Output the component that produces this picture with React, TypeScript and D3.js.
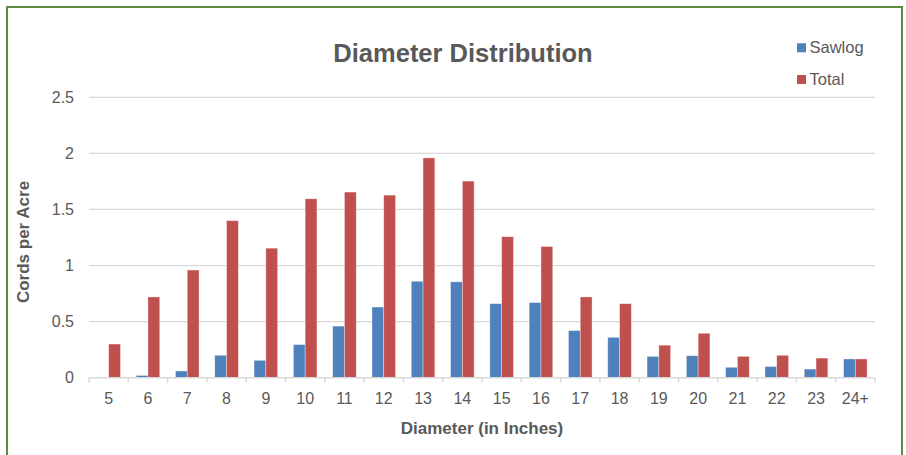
import { useEffect, useRef } from "react";
import * as d3 from "d3";

const categories = ["5", "6", "7", "8", "9", "10", "11", "12", "13", "14", "15", "16", "17", "18", "19", "20", "21", "22", "23", "24+"];
const sawlog = [0, 0.02, 0.06, 0.2, 0.155, 0.295, 0.46, 0.63, 0.86, 0.855, 0.66, 0.67, 0.42, 0.36, 0.19, 0.196, 0.093, 0.1, 0.077, 0.167];
const total = [0.3, 0.72, 0.96, 1.4, 1.155, 1.595, 1.655, 1.628, 1.96, 1.753, 1.257, 1.17, 0.72, 0.66, 0.29, 0.396, 0.19, 0.2, 0.175, 0.167];
const yTicks = [0, 0.5, 1, 1.5, 2, 2.5];

const seriesNames = ["Sawlog", "Total"];
const colors = ["#4f81bd", "#c0504d"];

const W = 906;
const H = 455;

export default function App() {
  const svgRef = useRef<SVGSVGElement | null>(null);

  useEffect(() => {
    const svgElement = svgRef.current;
    if (!svgElement) return;
    const svg = d3.select(svgElement);
    svg.selectAll("*").remove();

    const margin = { top: 97.3, right: W - 875, bottom: H - 377.7, left: 89 };
    const innerWidth = W - margin.left - margin.right;
    const innerHeight = H - margin.top - margin.bottom;
    const font = "Arial, 'Liberation Sans', sans-serif";
    const textColor = "#595959";

    svg.append("rect").attr("width", W).attr("height", H).attr("fill", "#fff");

    // chart border
    svg.append("rect")
      .attr("x", 7)
      .attr("y", 7)
      .attr("width", 895)
      .attr("height", 470)
      .attr("fill", "none")
      .attr("stroke", "#5b8c3e")
      .attr("stroke-width", 2);

    const x = d3.scaleBand().domain(categories).range([0, innerWidth]).paddingInner(0).paddingOuter(0);
    const y = d3.scaleLinear().domain([0, 2.5]).range([innerHeight, 0]);

    const g = svg.append("g").attr("transform", `translate(${margin.left},${margin.top})`);

    // gridlines
    g.append("g")
      .selectAll("line")
      .data(yTicks.filter((t) => t > 0))
      .join("line")
      .attr("x1", 0)
      .attr("x2", innerWidth)
      .attr("y1", (d) => y(d))
      .attr("y2", (d) => y(d))
      .attr("stroke", "#d9d9d9")
      .attr("stroke-width", 1.2);

    // y labels
    g.append("g")
      .selectAll("text")
      .data(yTicks)
      .join("text")
      .attr("x", -15)
      .attr("y", (d) => y(d))
      .attr("dy", "0.36em")
      .attr("text-anchor", "end")
      .attr("font-family", font)
      .attr("font-size", 16)
      .attr("fill", textColor)
      .text((d) => String(d));

    // bars
    const bw = x.bandwidth();
    const groups = [sawlog, total];
    groups.forEach((vals, si) => {
      g.append("g")
        .selectAll("rect")
        .data(vals)
        .join("rect")
        .attr("x", (_, i) => x(categories[i])! + bw * 0.2 + si * bw * 0.3)
        .attr("width", bw * 0.3)
        .attr("y", (d) => y(d))
        .attr("height", (d) => innerHeight - y(d))
        .attr("fill", colors[si])
        .attr("stroke", (d) => (d > 0 ? "rgba(255,255,255,0.5)" : "none"))
        .attr("stroke-width", 0.7);
    });

    // x axis line + ticks
    const axis = g.append("g").attr("transform", `translate(0,${innerHeight})`);
    axis.append("line")
      .attr("x1", 0)
      .attr("x2", innerWidth)
      .attr("stroke", "#d9d9d9")
      .attr("stroke-width", 1.5);
    axis.selectAll("line.tick")
      .data(d3.range(categories.length + 1))
      .join("line")
      .attr("class", "tick")
      .attr("x1", (i) => i * bw)
      .attr("x2", (i) => i * bw)
      .attr("y1", 0)
      .attr("y2", 5)
      .attr("stroke", "#d9d9d9")
      .attr("stroke-width", 1.5);
    axis.selectAll("text")
      .data(categories)
      .join("text")
      .attr("x", (d) => x(d)! + bw / 2)
      .attr("y", 26.5)
      .attr("text-anchor", "middle")
      .attr("font-family", font)
      .attr("font-size", 16)
      .attr("fill", textColor)
      .text((d) => d);

    // title
    svg.append("text")
      .attr("x", 463)
      .attr("y", 61.5)
      .attr("text-anchor", "middle")
      .attr("font-family", font)
      .attr("font-size", 25.5)
      .attr("font-weight", "bold")
      .attr("fill", textColor)
      .text("Diameter Distribution");

    // axis titles
    svg.append("text")
      .attr("x", margin.left + innerWidth / 2)
      .attr("y", 434)
      .attr("text-anchor", "middle")
      .attr("font-family", font)
      .attr("font-size", 17)
      .attr("font-weight", "bold")
      .attr("fill", textColor)
      .text("Diameter (in Inches)");

    svg.append("text")
      .attr("transform", `translate(29,242) rotate(-90)`)
      .attr("text-anchor", "middle")
      .attr("font-family", font)
      .attr("font-size", 17)
      .attr("font-weight", "bold")
      .attr("fill", textColor)
      .text("Cords per Acre");

    // legend
    const legend = svg.append("g");
    const legendY = [53.3, 85];
    seriesNames.forEach((name, i) => {
      legend.append("rect")
        .attr("x", 797)
        .attr("y", legendY[i] - 10)
        .attr("width", 9)
        .attr("height", 9)
        .attr("fill", colors[i]);
      legend.append("text")
        .attr("x", 809.5)
        .attr("y", legendY[i])
        .attr("font-family", font)
        .attr("font-size", 16.5)
        .attr("fill", textColor)
        .text(name);
    });
  }, []);

  return (
    <svg
      ref={svgRef}
      width={W}
      height={H}
      style={{ position: "absolute", left: 0, top: 0, display: "block" }}
    />
  );
}
